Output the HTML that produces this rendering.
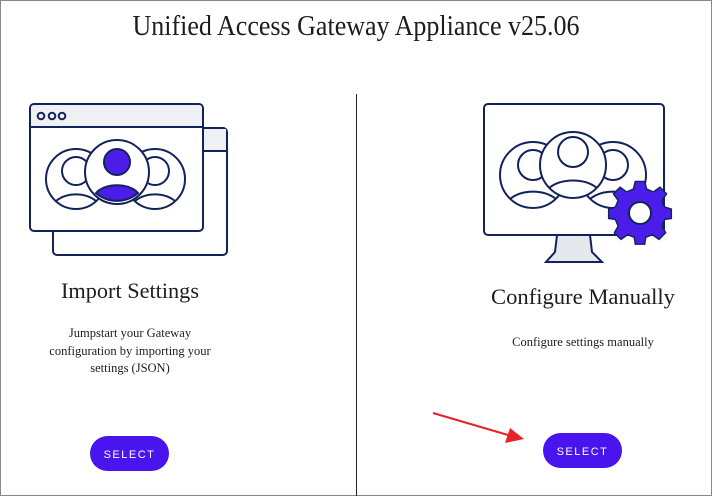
<!DOCTYPE html>
<html><head><style>
html,body{margin:0;padding:0;background:#fff}
svg{display:block}
text{font-family:"Liberation Serif",serif;fill:#1d1d1d}
</style></head><body>
<svg width="712" height="496" viewBox="0 0 712 496">
<rect x="0.5" y="0.5" width="711" height="495" fill="#fff" stroke="#888" stroke-width="1"/>
<text x="356" y="35" font-size="28" text-anchor="middle" textLength="447" lengthAdjust="spacingAndGlyphs" fill="#2a3340">Unified Access Gateway Appliance v25.06</text>
<line x1="356.5" y1="94" x2="356.5" y2="496" stroke="#222" stroke-width="1"/>

<!-- left illustration -->
<g stroke="#12235a" stroke-width="2" fill="none">
<rect x="53" y="128" width="174" height="127" rx="4" fill="#fff"/>
<rect x="54" y="129" width="172" height="22" fill="#eff0f4" stroke="none"/>
<line x1="53" y1="151" x2="227" y2="151"/>
<rect x="30" y="104" width="173" height="127" rx="4" fill="#fff"/>
<path d="M31 127 V108 a3 3 0 0 1 3-3 H199 a3 3 0 0 1 3 3 V127 Z" fill="#eff0f4" stroke="none"/>
<line x1="30" y1="127" x2="203" y2="127"/>
<circle cx="41" cy="116" r="3.3"/><circle cx="52" cy="116" r="3.3"/><circle cx="62" cy="116" r="3.3"/>
<circle cx="76" cy="179" r="30" fill="#fff"/>
<circle cx="76" cy="171" r="14"/>
<path d="M56 201 a28 22 0 0 1 40 0"/>
<circle cx="155" cy="179" r="30" fill="#fff"/>
<circle cx="155" cy="171" r="14"/>
<path d="M135 201 a28 22 0 0 1 40 0"/>
<circle cx="117" cy="172" r="32" fill="#fff"/>
<circle cx="117" cy="162" r="13" fill="#4a1ee8"/>
<path d="M96 193 a23 13 0 0 1 42 0 a32 32 0 0 1 -42 0Z" fill="#4a1ee8"/>
</g>

<!-- right illustration -->
<g stroke="#12235a" stroke-width="2" fill="none">
<path d="M557 235 L555 252 L546 262 H602 L592 252 L590 235Z" fill="#e6e8ee"/>
<rect x="484" y="104" width="180" height="131" rx="4" fill="#fff"/>
<circle cx="533" cy="175" r="33" fill="#fff"/>
<circle cx="533" cy="165" r="15"/>
<path d="M510 199 a32 24 0 0 1 46 0"/>
<circle cx="613" cy="175" r="33" fill="#fff"/>
<circle cx="613" cy="165" r="15"/>
<path d="M590 199 a32 24 0 0 1 46 0"/>
<circle cx="573" cy="165" r="33" fill="#fff"/>
<circle cx="573" cy="152" r="15"/>
<path d="M549 188 a32 22 0 0 1 48 0"/>
</g>
<g transform="translate(640,213)">
<path d="M-5 -29 H5 L7 -21 L14 -18 L21 -23 L28 -16 L23 -9 L26 -2 L33 0 V10 L26 11 L23 18 L27 25 L20 32 L13 27 L6 30 L5 37 H-5 L-6 30 L-13 27 L-20 32 L-27 25 L-23 18 L-26 11 L-33 10 V0 L-26 -2 L-23 -9 L-28 -16 L-21 -23 L-14 -18 L-7 -21Z" transform="translate(0,-4) scale(0.95)" fill="#4a1ee8" stroke="#12235a" stroke-width="1.5"/>
<circle cx="0" cy="0" r="11" fill="#fff" stroke="#12235a" stroke-width="2"/>
</g>

<text x="130" y="298" font-size="22" text-anchor="middle" textLength="138" lengthAdjust="spacingAndGlyphs">Import Settings</text>
<text x="130" y="337" font-size="12.5" text-anchor="middle">Jumpstart your Gateway</text>
<text x="130" y="355" font-size="12.5" text-anchor="middle">configuration by importing your</text>
<text x="130" y="372" font-size="12.5" text-anchor="middle">settings (JSON)</text>
<text x="583" y="304" font-size="22" text-anchor="middle" textLength="184" lengthAdjust="spacingAndGlyphs">Configure Manually</text>
<text x="583" y="346" font-size="12.5" text-anchor="middle">Configure settings manually</text>

<rect x="90" y="436" width="79" height="35" rx="17.5" fill="#4a14ee"/>
<text x="129.5" y="458" font-size="11" text-anchor="middle" style="font-family:'Liberation Sans',sans-serif;fill:#fff;letter-spacing:1.5px">SELECT</text>
<rect x="543" y="433" width="79" height="35" rx="17.5" fill="#4a14ee"/>
<text x="582.5" y="455" font-size="11" text-anchor="middle" style="font-family:'Liberation Sans',sans-serif;fill:#fff;letter-spacing:1.5px">SELECT</text>

<line x1="433" y1="413" x2="508" y2="435" stroke="#e8202a" stroke-width="2"/>
<polygon points="524,439 505,443 510,428" fill="#e8202a"/>
</svg>
</body></html>
